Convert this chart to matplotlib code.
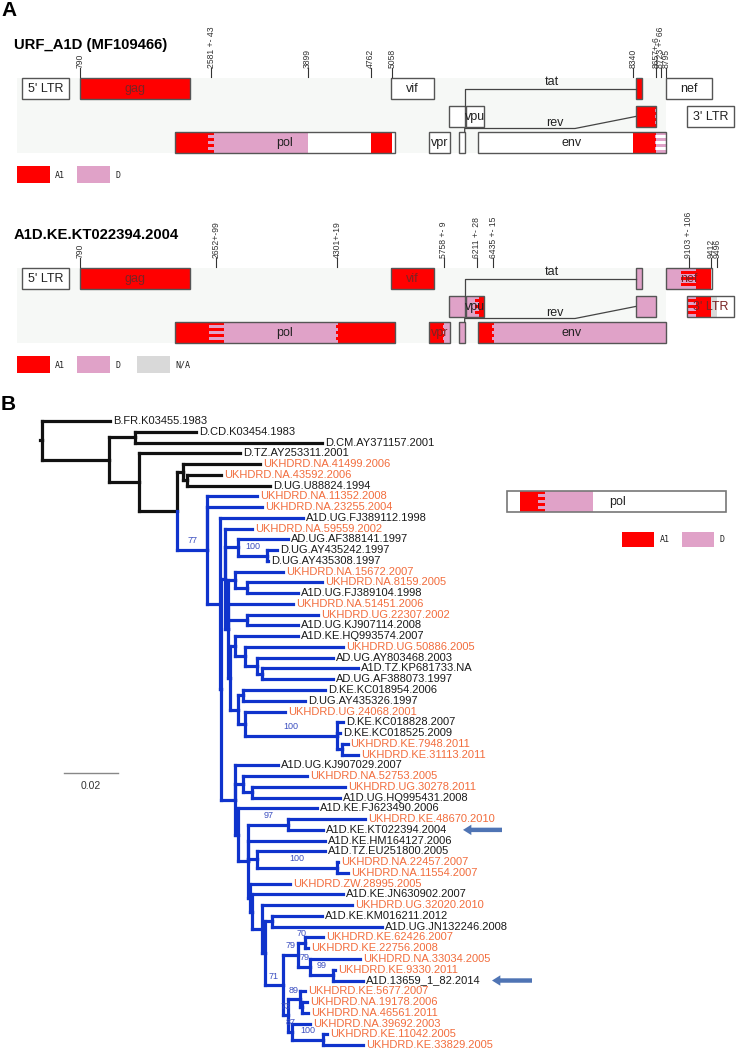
import re
import matplotlib.pyplot as plt
from matplotlib.patches import Rectangle
from matplotlib.collections import LineCollection

plt.rcParams['font.family'] = ['Liberation Sans', 'DejaVu Sans']

# ---------------- panel A data (HXB2 coordinates) ----------------
gene_label = ["5' LTR", 'gag', 'vif', '', 'nef', '', 'vpu', '', "3' LTR", 'pol', 'vpr', '', 'env']
gene_start = [1, 790, 5041, 8379, 8797, 5831, 6062, 8379, 9086, 2085, 5559, 5970, 6225]
gene_end = [634, 2292, 5619, 8469, 9417, 6045, 6310, 8653, 9719, 5096, 5850, 6045, 8795]
gene_row = [0, 0, 0, 0, 0, 1, 1, 1, 1, 2, 2, 2, 2]

g1_title = 'URF_A1D (MF109466)'
g1_bounds = [790, 2581, 3899, 4762, 5058, 8340, 8657, 8723, 9719]
g1_err = [0, 43, 0, 0, 0, 0, 6, 66, 0]
g1_subtype = ['A1', 'D', None, 'A1', None, 'A1', 'D', None]
g1_tick_pos = [790, 2581, 3899, 4762, 5058, 8340, 8657, 8723, 8795]
g1_tick_txt = ['790', '2581 +- 43', '3899', '4762', '5058', '8340', '8657+-6', '8723 +- 66', '8795']

g2_title = 'A1D.KE.KT022394.2004'
g2_bounds = [790, 2652, 4301, 5758, 6211, 6435, 9103, 9412, 9496]
g2_err = [0, 99, 19, 9, 28, 15, 106, 0, 0]
g2_subtype = ['A1', 'D', 'A1', 'D', 'A1', 'D', 'A1', 'N/A']
g2_tick_pos = [790, 2652, 4301, 5758, 6211, 6435, 9103, 9412, 9496]
g2_tick_txt = ['790', '2652+-99', '4301+-19', '5758 +- 9', '6211 +- 28', '6435 +- 15',
               '9103 +- 106', '9412', '9496']

# pol fragment shown in panel B
inset_bounds = [2264, 2560, 3270]
inset_err = [0, 48, 0]
inset_subtype = ['A1', 'D']

subtype_colors = {'A1': '#ff0000', 'D': '#e0a2c8', 'N/A': '#d9d9d9', None: 'white'}

# ---------------- panel B data (ML tree, subst./site, bootstrap) ----------------
tree_newick = """
(B.FR.K03455.1983:0.0252,
 ((D.CD.K03454.1983:0.0226,D.CM.AY371157.2001:0.0693):0.0096,
  (D.TZ.AY253311.2001:0.0374,
   ((UKHDRD.NA.41499.2006:0.0285,
     (UKHDRD.NA.43592.2006:0.0126,D.UG.U88824.1994:0.0307):0.0015):0.0022,
    (UKHDRD.NA.11352.2008:0.0185,UKHDRD.NA.23255.2004:0.0204,
     (A1D.UG.FJ389112.1998:0.0307,
      ((UKHDRD.NA.59559.2002:0.0100,
        (AD.UG.AF388141.1997:0.0185,
         (D.UG.AY435242.1997:0.0037,D.UG.AY435308.1997:0.0004)100:0.0107):0.0048,
        ((UKHDRD.NA.15672.2007:0.0178,
          (UKHDRD.NA.8159.2005:0.0278,A1D.UG.FJ389104.1998:0.0189):0.0044):0.0026,
         UKHDRD.NA.51451.2006:0.0241,
         (UKHDRD.UG.22307.2002:0.0263,A1D.UG.KJ907114.2008:0.0189):0.0070,
         ((A1D.KE.HQ993574.2007:0.0233,
           (UKHDRD.UG.50886.2005:0.0363,
            (AD.UG.AY803468.2003:0.0281,
             (A1D.TZ.KP681733.NA:0.0356,AD.UG.AF388073.1997:0.0263):0.0019):0.0044):0.0037):0.0019,
          ((D.KE.KC018954.2006:0.0304,D.UG.AY435326.1997:0.0230):0.0019,
           (UKHDRD.UG.24068.2001:0.0148,
            (D.KE.KC018828.2007:0.0022,D.KE.KC018525.2009:0.0011,
             (UKHDRD.KE.7948.2011:0.0019,UKHDRD.KE.31113.2011:0.0059):0.0019)100:0.0341):0.0026):0.0030):0.0007):0.0011):0.0015,
       (A1D.UG.KJ907029.2007:0.0159,
        (UKHDRD.NA.52753.2005:0.0237,
         (UKHDRD.UG.30278.2011:0.0344,A1D.UG.HQ995431.2008:0.0326):0.0033):0.0030,
        (A1D.KE.FJ623490.2006:0.0293,
         ((UKHDRD.KE.48670.2010:0.0285,A1D.KE.KT022394.2004:0.0130)97:0.0148,
          A1D.KE.HM164127.2006:0.0285,
          (A1D.TZ.EU251800.2005:0.0252,
           (UKHDRD.NA.22457.2007:0.0004,UKHDRD.NA.11554.2007:0.0041)100:0.0296):0.0033,
          (UKHDRD.ZW.28995.2005:0.0148,
           (A1D.KE.JN630902.2007:0.0337,
            (UKHDRD.UG.32020.2010:0.0333,
             ((A1D.KE.KM016211.2012:0.0185,A1D.UG.JN132246.2008:0.0407):0.0026,
              (((UKHDRD.KE.62426.2007:0.0067,UKHDRD.KE.22756.2008:0.0011)70:0.0026,
                (UKHDRD.NA.33034.2005:0.0185,
                 (UKHDRD.KE.9330.2011:0.0007,A1D.13659_1_82.2014:0.0111)99:0.0085)79:0.0044)79:0.0056,
               ((UKHDRD.KE.5677.2007:0.0019,
                 (UKHDRD.NA.19178.2006:0.0019,UKHDRD.NA.46561.2011:0.0022):0.0007)89:0.0044,
                (UKHDRD.NA.39692.2003:0.0067,
                 (UKHDRD.KE.11042.2005:0.0015,UKHDRD.KE.33829.2005:0.0148)100:0.0115)87:0.0015)73:0.0019)71:0.0067
             ):0.0011):0.0037):0.0007):0.0007):0.0037):0.0011):0.0052):0.0004):0.0048)77:0.0111):0.0141):0.0111):0.0248):0.0008;
"""
blue_first_tip = 'UKHDRD.NA.11352.2008'
arrow_tips = ['A1D.KE.KT022394.2004', 'A1D.13659_1_82.2014']
scale_len = 0.02

RED_TXT = '#7a2424'
TREE_BLUE = '#0f33cc'
ORANGE = '#f26d3d'


def parse_newick(s):
    pos = 0

    def node():
        nonlocal pos
        n = {'children': [], 'name': '', 'len': 0.0}
        if s[pos] == '(':
            pos += 1
            while True:
                n['children'].append(node())
                ch = s[pos]
                pos += 1
                if ch == ')':
                    break
        m = re.match(r"[^,():;]*", s[pos:])
        n['name'] = m.group(0)
        pos += len(n['name'])
        if s[pos] == ':':
            pos += 1
            m = re.match(r"[0-9.eE+-]+", s[pos:])
            n['len'] = float(m.group(0))
            pos += len(m.group(0))
        return n
    return node()


fig = plt.figure(figsize=(7.39, 10.49), dpi=100)


def overlay(rect=(0, 0, 1, 1)):
    ax = fig.add_axes(rect)
    ax.set_axis_off()
    ax.patch.set_alpha(0)
    return ax


# pixel overlay for titles / legends
ax_px = overlay()
ax_px.set_xlim(0, 739)
ax_px.set_ylim(1049, 0)

# genome map axes: x in HXB2 nt, y in px
axA = overlay()
axA.set_xlim(-22.2 / 0.0732, (739 - 22.2) / 0.0732)
axA.set_ylim(1049, 0)


def subtype_at(p, bounds, subs):
    for k in range(len(subs)):
        if bounds[k] <= p < bounds[k + 1]:
            return subs[k]
    return None


def paint_box(ax, s, e, y, h, bounds, errs, subs, ec='#555555', lw=1.0):
    ax.add_patch(Rectangle((s, y), e - s, h, fc='white', ec='none', clip_on=False))
    for k in range(len(subs)):
        a, b = max(s, bounds[k]), min(e, bounds[k + 1])
        if b > a and subs[k] is not None:
            ax.add_patch(Rectangle((a, y), b - a, h, fc=subtype_colors[subs[k]], ec='none', clip_on=False))
    nst = 7
    for k in range(1, len(subs) + 1):
        err = errs[k]
        if err == 0:
            continue
        a, b = max(s, bounds[k] - err), min(e, bounds[k] + err)
        if b <= a:
            continue
        right = subs[k] if k < len(subs) else None
        for j in range(nst):
            c = subtype_colors[subs[k - 1]] if j % 2 == 0 else subtype_colors[right]
            ax.add_patch(Rectangle((a, y + j * h / nst), b - a, h / nst, fc=c, ec='none', clip_on=False))
    ax.add_patch(Rectangle((s, y), e - s, h, fc='none', ec=ec, lw=lw, clip_on=False))


def draw_legend(y, keys):
    for i, k in enumerate(keys):
        x = 17 + 60 * i
        ax_px.add_patch(Rectangle((x, y), 33, 17, fc=subtype_colors[k], ec='none'))
        ax_px.text(x + 38, y + 9, k, fontsize=6, family='DejaVu Sans Mono', va='center', ha='left', color='#222')


def draw_map(y0, bounds, errs, subs, tick_pos, tick_txt, title, legend_keys):
    h = 21
    top = [y0 + 78, y0 + 106, y0 + 132]
    axA.add_patch(Rectangle((-71, top[0]), 8795 + 71, top[2] + h - top[0], fc='#f6f8f6', ec='none'))
    for lab, s, e, r in zip(gene_label, gene_start, gene_end, gene_row):
        paint_box(axA, s, e, top[r], h, bounds, errs, subs)
        if lab:
            sub = subtype_at((s + e) / 2, bounds, subs)
            axA.text((s + e) / 2, top[r] + h / 2 + 0.5, lab, ha='center', va='center', fontsize=9,
                     color=RED_TXT if sub == 'A1' else '#222222')
    # spliced exons of tat and rev
    tat1 = gene_end[gene_label.index('vpu') - 1]
    axA.plot([tat1, tat1, 8379], [top[1], top[0] + h / 2, top[0] + h / 2], color='#444', lw=0.9)
    axA.text(7238, top[0] + 4, 'tat', ha='center', va='center', fontsize=9, color='#222')
    axA.plot([6045, 6045, 7552, 8379], [top[2], top[2] - 3.5, top[2] - 3.5, top[1] + h / 2], color='#444', lw=0.9)
    axA.text(7281, top[1] + 17, 'rev', ha='center', va='center', fontsize=9, color='#222')
    for p, t in zip(tick_pos, tick_txt):
        axA.plot([p, p], [top[0] - 10, top[0] - 1], color='#333', lw=0.8)
        axA.text(p, top[0] - 10.5, t, rotation=90, ha='center', va='bottom', fontsize=6.2, color='#333')
    ax_px.text(14, y0 + 49, title, fontsize=10.7, fontweight='bold', ha='left', va='baseline')
    draw_legend(y0 + 166, legend_keys)


draw_map(0, g1_bounds, g1_err, g1_subtype, g1_tick_pos, g1_tick_txt, g1_title, ['A1', 'D'])
draw_map(190, g2_bounds, g2_err, g2_subtype, g2_tick_pos, g2_tick_txt, g2_title, ['A1', 'D', 'N/A'])

ax_px.text(1, 11, 'A', fontsize=15, fontweight='bold', ha='left', va='center')
ax_px.text(1, 405, 'B', fontsize=15, fontweight='bold', ha='left', va='center')

# ---------------- panel B: inset pol map ----------------
ax_in = overlay((507 / 739, 1 - 512 / 1049, 219 / 739, 21 / 1049))
ax_in.set_xlim(2085, 5096)
ax_in.set_ylim(1, 0)
paint_box(ax_in, 2085, 5096, 0, 1, inset_bounds, inset_err, inset_subtype, ec='#777777', lw=1.2)
ax_in.text(3598, 0.5, 'pol', ha='center', va='center', fontsize=9, color='#222')
for i, k in enumerate(['A1', 'D']):
    x = 622 + 60 * i
    ax_px.add_patch(Rectangle((x, 532), 32, 15, fc=subtype_colors[k], ec='none'))
    ax_px.text(x + 38, 540, k, fontsize=6, family='DejaVu Sans Mono', va='center', ha='left', color='#222')

# ---------------- panel B: tree ----------------
root = parse_newick(''.join(tree_newick.split()))
tips, nodes = [], []


def layout(n, x0):
    n['x'] = x0 + n['len']
    nodes.append(n)
    for c in n['children']:
        c['parent'] = n
        layout(c, n['x'])
    if n['children']:
        n['y'] = (n['children'][0]['y'] + n['children'][-1]['y']) / 2
        n['first'] = n['children'][0]['first']
    else:
        n['y'] = len(tips)
        n['first'] = n['y']
        tips.append(n)


layout(root, 0.0)
blue_first = [t['name'] for t in tips].index(blue_first_tip)

PX_PER_UNIT = 2700.0
ROOT_PX, TIP0_PY, TIP_DY = 40.0, 421.0, 10.76
ax_t = overlay()
ax_t.set_xlim(-ROOT_PX / PX_PER_UNIT, (739 - ROOT_PX) / PX_PER_UNIT)
ax_t.set_ylim((1049 - TIP0_PY) / TIP_DY, -TIP0_PY / TIP_DY)

segs = {'k': [], 'b': []}
for n in nodes:
    key = 'b' if n['first'] >= blue_first else 'k'
    par = n.get('parent')
    x0 = par['x'] if par else 0.0
    segs[key].append([(x0, n['y']), (n['x'], n['y'])])
    if par:
        segs[key].append([(x0, par['y']), (x0, n['y'])])
    if par and n['children'] and n['name']:
        ax_t.text((x0 + n['x']) / 2, n['y'] - 0.85, n['name'], fontsize=6.5, color='#3c4fc0',
                  ha='center', va='center')
ax_t.add_collection(LineCollection(segs['k'], colors='#111111', linewidths=2.3, capstyle='projecting'))
ax_t.add_collection(LineCollection(segs['b'], colors=TREE_BLUE, linewidths=2.3, capstyle='projecting'))

for t in tips:
    ax_t.text(t['x'] + 3 / PX_PER_UNIT, t['y'], t['name'], fontsize=8, va='center', ha='left',
              color=ORANGE if t['name'].startswith('UKHDRD') else '#1a1a1a')

# scale bar
sb_x0 = (64 - ROOT_PX) / PX_PER_UNIT
sb_y = (773 - TIP0_PY) / TIP_DY
ax_t.plot([sb_x0, sb_x0 + scale_len], [sb_y, sb_y], color='#888888', lw=1.0)
ax_t.text(sb_x0 + scale_len / 2, sb_y + 1.2, f'{scale_len:g}', fontsize=7.5, ha='center', va='center', color='#333')

# arrows to the two sequences of interest
tip_y = {t['name']: t['y'] for t in tips}
for name, (xh, xt) in zip(arrow_tips, [(463, 502), (492, 532)]):
    y = tip_y[name]
    ax_t.annotate('', xy=((xh - ROOT_PX) / PX_PER_UNIT, y), xytext=((xt - ROOT_PX) / PX_PER_UNIT, y),
                  arrowprops=dict(arrowstyle='simple,head_length=0.6,head_width=0.75,tail_width=0.32',
                                  fc='#4f74b4', ec='none', shrinkA=0, shrinkB=0, mutation_scale=10))

fig.savefig('out.png', dpi=100)
